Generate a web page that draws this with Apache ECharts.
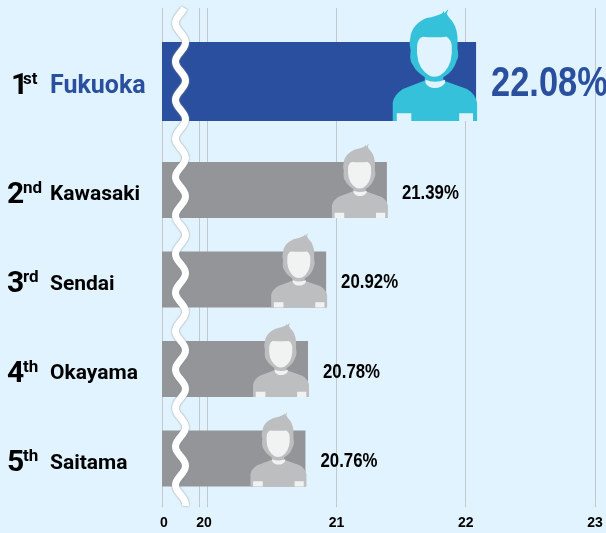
<!DOCTYPE html>
<html>
<head>
<meta charset="utf-8">
<script src="https://cdn.jsdelivr.net/npm/echarts@6/dist/echarts.min.js"></script>
<style>
html, body { margin: 0; padding: 0; background: #e0f3fe; }
#main { width: 606px; height: 533px; }
</style>
</head>
<body>
<div id="main"></div>
<script>
// winner gets its own grid because its row is taller than the others
var topCity = ['Fukuoka'];
var topRank = ['1'];
var topSuffix = ['st'];
var topValue = [22.08];

var restCity = ['Kawasaki', 'Sendai', 'Okayama', 'Saitama'];
var restRank = ['2', '3', '4', '5'];
var restSuffix = ['nd', 'rd', 'th', 'th'];
var restValue = [21.39, 20.92, 20.78, 20.76];

var gridLines = [0, 19.94, 20, 21, 22, 23];
var tickLabels = [0.015, 19.975, 21, 22, 23];

var labelFont = 'Roboto';
var valueFont = '"Liberation Sans"';

// person icon, all parts in one 250x335 box
var box = 'M0 0L0 0M250 335L250 335';
var iconBody = box + 'M0 335V280Q3 258 30 240L95 215V205Q70 190 60 170L54 160Q50 145 53 125Q48 105 52 90Q55 50 100 30Q130 24 146 16L152 8L153 16L165 2L160 18L168 30Q188 48 192 85V120Q197 145 190 155Q180 190 150 205V215L220 240Q245 255 250 280V335Z';
var iconFace = box + 'M72 115Q72 92 88 85Q125 88 160 85Q175 95 175 115L175 135Q172 180 140 200Q122 207 108 200Q75 180 72 135Z' +
    'M97 213Q125 225 155 213L155 222Q145 237 125 237Q105 237 97 222Z' +
    'M12 312H55V335H12ZM197 312H238V335H197Z';

// icon sits on the bar end, percent text is squeezed to get the narrow look
function iconRender(barHeight, iconHeight, bodyColor, faceColor, textColor, textSize, textGap) {
    return function (params, api) {
        var v = api.value(0);
        var p = api.coord([v, api.value(1)]);
        var w = iconHeight * 250 / 335;
        var rect = {x: p[0] - w + 1, y: p[1] + barHeight / 2 - iconHeight, width: w, height: iconHeight, layout: 'cover'};
        return {
            type: 'group',
            children: [
                {type: 'path', shape: Object.assign({pathData: iconBody}, rect), style: {fill: bodyColor}},
                {type: 'path', shape: Object.assign({pathData: iconFace}, rect), style: {fill: faceColor}},
                {
                    type: 'text',
                    x: p[0] + textGap,
                    y: p[1] + 3,
                    scaleX: 0.8,
                    style: {
                        text: v.toFixed(2) + '%',
                        fill: textColor,
                        font: 'bold ' + textSize + 'px ' + valueFont,
                        textAlign: 'left',
                        textVerticalAlign: 'middle'
                    }
                }
            ]
        };
    };
}

function xAxisFor(gridIndex, showLabels) {
    return {
        type: 'value',
        gridIndex: gridIndex,
        min: 0,
        max: 23,
        breaks: [{start: 0.05, end: 19.9, gap: '5.96%'}],
        breakArea: {show: false},
        axisLine: {show: false},
        axisTick: {
            show: showLabels,
            length: 4,
            customValues: gridLines,
            lineStyle: {color: '#c3c8cc', width: 1}
        },
        axisLabel: {
            show: showLabels,
            customValues: tickLabels,
            margin: 13,
            color: '#000',
            fontFamily: valueFont,
            fontWeight: 'bold',
            fontSize: 14,
            formatter: function (v) { return Math.round(v); }
        },
        splitLine: {show: true, lineStyle: {color: '#c3c8cc', width: 1}}
    };
}

function yAxisFor(gridIndex, cities, ranks, suffixes, rankIndent, nameSize, nameColor) {
    return {
        type: 'category',
        gridIndex: gridIndex,
        inverse: true,
        data: cities,
        axisLine: {show: false},
        axisTick: {show: false},
        splitLine: {show: false},
        axisLabel: {
            align: 'left',
            margin: 155,
            padding: [10, 0, 0, 0],
            formatter: function (v, i) {
                return '{r|' + ranks[i] + '}{s|' + suffixes[i] + '}{n|' + v + '}';
            },
            rich: {
                r: {fontFamily: labelFont, fontWeight: 'bold', fontSize: 30, color: '#000', width: 16 - rankIndent, align: 'left', padding: [0, 0, 0, rankIndent]},
                s: {fontFamily: labelFont, fontWeight: 'bold', fontSize: 17, color: '#000', width: 27, align: 'left', verticalAlign: 'top'},
                n: {fontFamily: labelFont, fontWeight: 'bold', fontSize: nameSize, color: nameColor, align: 'left'}
            }
        }
    };
}

function barSeries(axisIndex, values, width, color) {
    return {
        type: 'bar',
        xAxisIndex: axisIndex,
        yAxisIndex: axisIndex,
        data: values,
        barWidth: width,
        silent: true,
        itemStyle: {color: color}
    };
}

function iconSeries(axisIndex, values, renderItem) {
    return {
        type: 'custom',
        xAxisIndex: axisIndex,
        yAxisIndex: axisIndex,
        silent: true,
        z: 3,
        data: values.map(function (v, i) { return [v, i]; }),
        encode: {x: 0, y: 1},
        renderItem: renderItem
    };
}

// white wavy line showing the cut in the axis
var wave = [];
for (var wy = 8; wy <= 507; wy += 2) {
    wave.push([180.5 - 5 * Math.sin(2 * Math.PI * (wy - 13.4) / 38.5), wy]);
}

var myChart = echarts.init(document.getElementById('main'));
myChart.setOption({
    animation: false,
    backgroundColor: '#e0f3fe',
    grid: [
        {left: 162, right: 11, top: 8, height: 147},
        {left: 162, right: 11, top: 145.25, height: 358}
    ],
    xAxis: [xAxisFor(0, false), xAxisFor(1, true)],
    yAxis: [
        yAxisFor(0, topCity, topRank, topSuffix, 4, 25, '#2a4f9f'),
        yAxisFor(1, restCity, restRank, restSuffix, 0, 21, '#000')
    ],
    series: [
        barSeries(0, topValue, 79, '#2a4f9f'),
        barSeries(1, restValue, 56, '#939598'),
        iconSeries(0, topValue, iconRender(79, 113, '#35c1da', '#e0f3fe', '#2a4f9f', 43, 15)),
        iconSeries(1, restValue, iconRender(56, 75, '#bcbec0', '#f1f2f2', '#000', 21, 15))
    ],
    graphic: [{
        type: 'polyline',
        z: 100,
        silent: true,
        shape: {points: wave},
        style: {fill: null, stroke: '#fff', lineWidth: 7, shadowBlur: 2, shadowColor: '#8a8f94'}
    }]
});
</script>
</body>
</html>
